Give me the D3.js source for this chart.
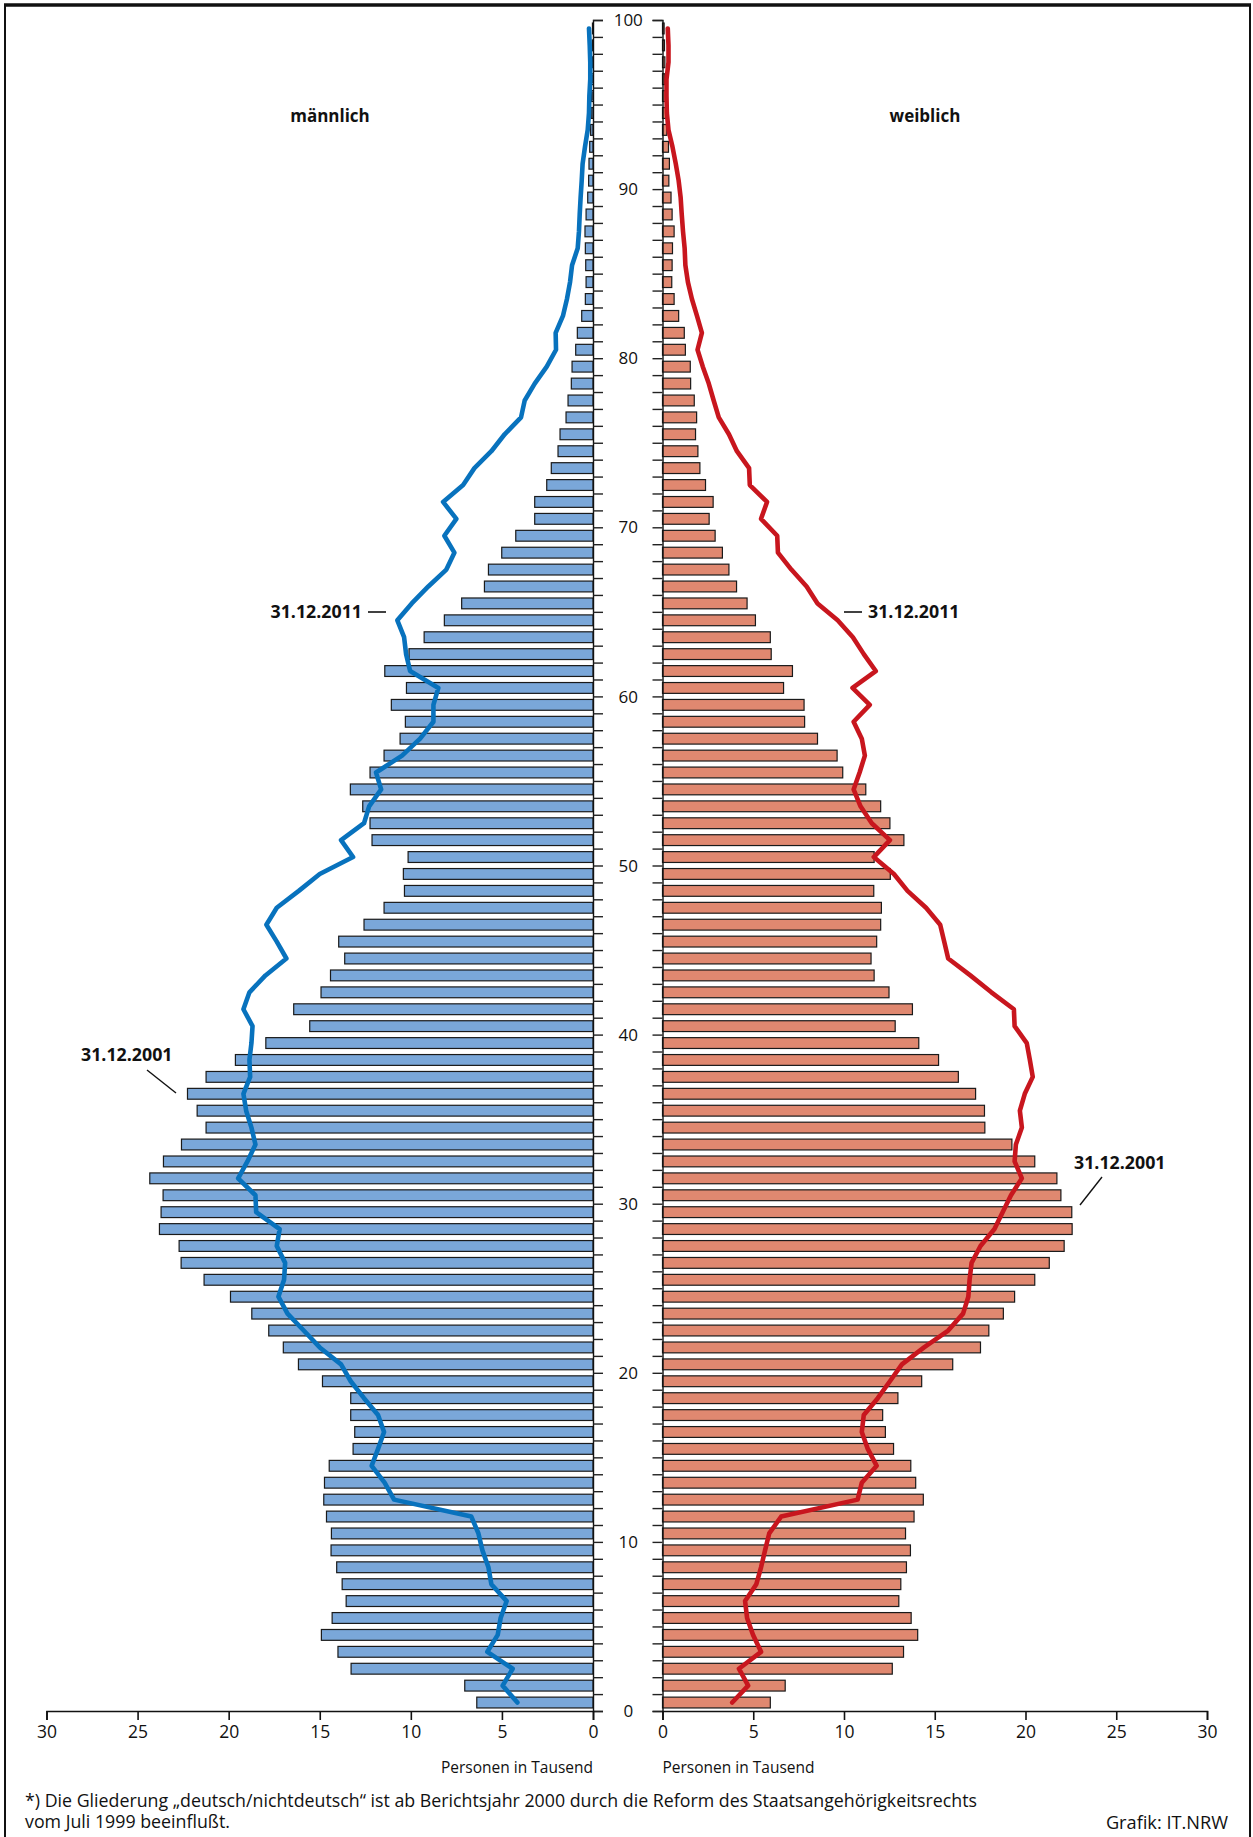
<!DOCTYPE html>
<html lang="de">
<head>
<meta charset="utf-8">
<title>Bevölkerungspyramide</title>
<style>
  body { margin: 0; background: #fff; }
  svg text { font-family: "Open Sans", "Noto Sans", sans-serif; fill: #111; }
</style>
</head>
<body>
<script src="https://cdn.jsdelivr.net/npm/d3@7/dist/d3.min.js"></script>
<script>
// Altersjahre 0..99
var ages = d3.range(0, 100);

// Balken: 31.12.2001 (Personen in Tausend)
var male2001 = [6.38, 7.04, 13.28, 14.0, 14.91, 14.32, 13.55, 13.77, 14.07, 14.38,
  14.36, 14.63, 14.78, 14.74, 14.48, 13.17, 13.08, 13.3, 13.3, 14.85,
  16.17, 17.0, 17.8, 18.73, 19.9, 21.35, 22.61, 22.72, 23.8, 23.71,
  23.6, 24.33, 23.58, 22.59, 21.24, 21.73, 22.26, 21.24, 19.63, 17.96,
  15.55, 16.43, 14.93, 14.41, 13.63, 13.96, 12.57, 11.47, 10.35, 10.41,
  10.15, 12.13, 12.24, 12.64, 13.32, 12.24, 11.47, 10.59, 10.3, 11.07,
  10.24, 11.43, 10.1, 9.27, 8.16, 7.21, 5.96, 5.74, 5.01, 4.24,
  3.2, 3.2, 2.54, 2.29, 1.92, 1.81, 1.48, 1.37, 1.19, 1.15,
  0.95, 0.86, 0.62, 0.42, 0.38, 0.4, 0.42, 0.44, 0.38, 0.29,
  0.24, 0.22, 0.18, 0.13, 0.1, 0.08, 0.07, 0.05, 0.04, 0.03];

var female2001 = [5.94, 6.76, 12.66, 13.28, 14.06, 13.7, 13.02, 13.13, 13.44, 13.66,
  13.39, 13.86, 14.37, 13.95, 13.68, 12.73, 12.28, 12.13, 12.97, 14.28,
  15.99, 17.52, 17.98, 18.78, 19.4, 20.51, 21.31, 22.13, 22.57, 22.55,
  21.95, 21.73, 20.51, 19.25, 17.76, 17.74, 17.25, 16.3, 15.21, 14.12,
  12.82, 13.77, 12.48, 11.66, 11.49, 11.8, 12.02, 12.06, 11.64, 12.55,
  11.66, 13.3, 12.53, 12.02, 11.2, 9.93, 9.62, 8.54, 7.83, 7.8,
  6.67, 7.16, 5.99, 5.94, 5.12, 4.66, 4.08, 3.66, 3.3, 2.9,
  2.57, 2.79, 2.37, 2.06, 1.95, 1.82, 1.88, 1.75, 1.55, 1.53,
  1.26, 1.2, 0.89, 0.64, 0.51, 0.53, 0.55, 0.64, 0.53, 0.47,
  0.35, 0.38, 0.33, 0.24, 0.2, 0.16, 0.13, 0.13, 0.11, 0.09];

// Linien: 31.12.2011
var male2011 = [4.15, 4.96, 4.41, 5.8, 5.23, 5.07, 4.74, 5.58, 5.74, 6.07,
  6.29, 6.68, 10.92, 11.44, 12.15, 11.8, 11.47, 11.8, 12.57, 13.3,
  13.83, 15.0, 15.88, 16.77, 17.27, 16.96, 16.9, 17.36, 17.2, 18.49,
  18.53, 19.48, 18.97, 18.53, 18.75, 19.04, 19.19, 18.82, 18.86, 18.75,
  18.69, 19.19, 18.86, 17.98, 16.83, 17.36, 17.93, 17.36, 16.15, 15.0,
  13.17, 13.83, 12.57, 12.29, 11.63, 11.91, 10.48, 9.49, 8.76, 8.76,
  8.49, 10.04, 10.26, 10.37, 10.74, 9.95, 9.04, 8.05, 7.61, 8.16,
  7.5, 8.23, 7.13, 6.51, 5.58, 4.85, 3.95, 3.75, 3.2, 2.54,
  2.03, 2.05, 1.65, 1.43, 1.26, 1.15, 0.84, 0.77, 0.73, 0.68,
  0.62, 0.57, 0.44, 0.29, 0.22, 0.2, 0.15, 0.15, 0.18, 0.22];

var female2011 = [3.84, 4.72, 4.21, 5.43, 4.99, 4.66, 4.55, 5.17, 5.43, 5.65,
  5.88, 6.54, 10.75, 10.98, 11.8, 11.31, 10.98, 11.09, 11.86, 12.53,
  13.19, 14.41, 15.74, 16.56, 16.85, 16.92, 17.03, 17.52, 18.29, 18.74,
  19.2, 19.8, 19.4, 19.47, 19.8, 19.69, 19.96, 20.4, 20.24, 20.07,
  19.4, 19.36, 18.12, 16.96, 15.74, 15.52, 15.3, 14.52, 13.5, 12.75,
  11.64, 12.53, 11.53, 10.91, 10.53, 10.86, 11.15, 10.98, 10.53, 11.42,
  10.47, 11.75, 11.09, 10.49, 9.65, 8.54, 7.94, 7.1, 6.36, 6.32,
  5.43, 5.76, 4.81, 4.77, 4.1, 3.66, 3.1, 2.82, 2.55, 2.22,
  1.93, 2.17, 1.9, 1.62, 1.4, 1.26, 1.22, 1.13, 1.06, 1.0,
  0.89, 0.73, 0.55, 0.33, 0.24, 0.22, 0.22, 0.33, 0.33, 0.29];

var xTicks = [0, 5, 10, 15, 20, 25, 30];
var ageLabels = [0, 10, 20, 30, 40, 50, 60, 70, 80, 90, 100];

var width = 1253, height = 1837;

var svg = d3.select("body").append("svg")
    .attr("width", width)
    .attr("height", height);

// Rahmen (unten offen)
svg.append("path")
    .attr("d", "M5,1837 V5 H1250 V1837")
    .attr("fill", "none")
    .attr("stroke", "#111")
    .attr("stroke-width", 2);
svg.append("line")
    .attr("x1", 4).attr("x2", 1251).attr("y1", 5).attr("y2", 5)
    .attr("stroke", "#111").attr("stroke-width", 3.5);

var y = d3.scaleLinear().domain([0, 100]).range([1711, 20]);
var xM = d3.scaleLinear().domain([0, 30]).range([593, 46.5]);
var xF = d3.scaleLinear().domain([0, 30]).range([662.5, 1207]);

var step = y(0) - y(1);
var barH = step * 0.64;

// Balken männlich
svg.append("g").selectAll("rect")
    .data(ages)
    .enter().append("rect")
    .attr("x", function(a){ return xM(male2001[a]); })
    .attr("y", function(a){ return y(a + 0.5) - barH / 2; })
    .attr("width", function(a){ return xM(0) - xM(male2001[a]); })
    .attr("height", barH)
    .attr("fill", "#7aa7d9")
    .attr("stroke", "#1a1a1a")
    .attr("stroke-width", 1.2);

// Balken weiblich
svg.append("g").selectAll("rect")
    .data(ages)
    .enter().append("rect")
    .attr("x", xF(0))
    .attr("y", function(a){ return y(a + 0.5) - barH / 2; })
    .attr("width", function(a){ return xF(female2001[a]) - xF(0); })
    .attr("height", barH)
    .attr("fill", "#e08870")
    .attr("stroke", "#1a1a1a")
    .attr("stroke-width", 1.2);

// Altersachsen
var ageAxisM = svg.append("g")
    .attr("transform", "translate(" + xM(0) + ",0)")
    .call(d3.axisRight(y).tickValues(d3.range(0, 101)).tickSize(10).tickFormat(""));
var ageAxisF = svg.append("g")
    .attr("transform", "translate(" + xF(0) + ",0)")
    .call(d3.axisLeft(y).tickValues(d3.range(0, 101)).tickSize(10).tickFormat(""));
[ageAxisM, ageAxisF].forEach(function(g){
  g.select(".domain").attr("stroke", "#111").attr("stroke-width", 1.4);
  g.selectAll(".tick line").attr("stroke", "#222").attr("stroke-width", 1.4);
});

svg.append("g").selectAll("text")
    .data(ageLabels)
    .enter().append("text")
    .attr("x", (xM(0) + xF(0)) / 2 + 0.5)
    .attr("y", function(d){ return y(d); })
    .attr("dy", "0.36em")
    .attr("text-anchor", "middle")
    .attr("font-size", 17)
    .text(function(d){ return d; });

// x-Achsen
var axM = svg.append("g")
    .attr("transform", "translate(0," + y(0) + ")")
    .call(d3.axisBottom(xM).tickValues(xTicks).tickSize(9).tickPadding(6));
var axF = svg.append("g")
    .attr("transform", "translate(0," + y(0) + ")")
    .call(d3.axisBottom(xF).tickValues(xTicks).tickSize(9).tickPadding(6));
[axM, axF].forEach(function(g){
  g.select(".domain").attr("stroke", "#111").attr("stroke-width", 1.6);
  g.selectAll(".tick line").attr("stroke", "#111").attr("stroke-width", 1.6);
  g.selectAll(".tick text")
      .attr("font-family", "'Open Sans', 'Noto Sans', sans-serif")
      .attr("font-size", 17.5)
      .attr("fill", "#111");
});

svg.append("text")
    .attr("x", xM(0)).attr("y", 1773)
    .attr("text-anchor", "end")
    .attr("font-size", 15.5)
    .text("Personen in Tausend");
svg.append("text")
    .attr("x", xF(0)).attr("y", 1773)
    .attr("text-anchor", "start")
    .attr("font-size", 15.5)
    .text("Personen in Tausend");

// Linien 2011
var lineM = d3.line()
    .x(function(a){ return xM(male2011[a]); })
    .y(function(a){ return y(a + 0.5); });
var lineF = d3.line()
    .x(function(a){ return xF(female2011[a]); })
    .y(function(a){ return y(a + 0.5); });

svg.append("path")
    .attr("d", lineM(ages))
    .attr("fill", "none")
    .attr("stroke", "#0872bd")
    .attr("stroke-width", 4.6)
    .attr("stroke-linejoin", "round")
    .attr("stroke-linecap", "round");
svg.append("path")
    .attr("d", lineF(ages))
    .attr("fill", "none")
    .attr("stroke", "#c8161e")
    .attr("stroke-width", 4.6)
    .attr("stroke-linejoin", "round")
    .attr("stroke-linecap", "round");

// Titel
svg.append("text")
    .attr("x", 330).attr("y", 122)
    .attr("text-anchor", "middle")
    .attr("font-size", 17).attr("font-weight", "bold")
    .text("männlich");
svg.append("text")
    .attr("x", 925).attr("y", 122)
    .attr("text-anchor", "middle")
    .attr("font-size", 17).attr("font-weight", "bold")
    .text("weiblich");

// Beschriftungen
svg.append("text")
    .attr("x", 362).attr("y", 618)
    .attr("text-anchor", "end")
    .attr("font-size", 17.8).attr("font-weight", "bold")
    .text("31.12.2011");
svg.append("line")
    .attr("x1", 368).attr("x2", 386).attr("y1", 612).attr("y2", 612)
    .attr("stroke", "#111").attr("stroke-width", 1.6);

svg.append("text")
    .attr("x", 868).attr("y", 618)
    .attr("text-anchor", "start")
    .attr("font-size", 17.8).attr("font-weight", "bold")
    .text("31.12.2011");
svg.append("line")
    .attr("x1", 844).attr("x2", 862).attr("y1", 612).attr("y2", 612)
    .attr("stroke", "#111").attr("stroke-width", 1.6);

svg.append("text")
    .attr("x", 81).attr("y", 1061)
    .attr("text-anchor", "start")
    .attr("font-size", 17.8).attr("font-weight", "bold")
    .text("31.12.2001");
svg.append("line")
    .attr("x1", 147).attr("y1", 1070).attr("x2", 176).attr("y2", 1093)
    .attr("stroke", "#111").attr("stroke-width", 1.4);

svg.append("text")
    .attr("x", 1074).attr("y", 1169)
    .attr("text-anchor", "start")
    .attr("font-size", 17.8).attr("font-weight", "bold")
    .text("31.12.2001");
svg.append("line")
    .attr("x1", 1102).attr("y1", 1177).attr("x2", 1080).attr("y2", 1205)
    .attr("stroke", "#111").attr("stroke-width", 1.4);

// Fußnote
svg.append("text")
    .attr("x", 25).attr("y", 1807)
    .attr("font-family", "'Liberation Sans', Arial, sans-serif")
    .attr("font-size", 17.8)
    .text("*) Die Gliederung \u201Edeutsch/nichtdeutsch\u201C ist ab Berichtsjahr 2000 durch die Reform des Staatsangehörigkeitsrechts");
svg.append("text")
    .attr("x", 25).attr("y", 1828)
    .attr("font-family", "'Liberation Sans', Arial, sans-serif")
    .attr("font-size", 17.8)
    .text("vom Juli 1999 beeinflußt.");

svg.append("text")
    .attr("x", 1228).attr("y", 1829)
    .attr("text-anchor", "end")
    .attr("font-size", 18.2)
    .text("Grafik: IT.NRW");
</script>
</body>
</html>
